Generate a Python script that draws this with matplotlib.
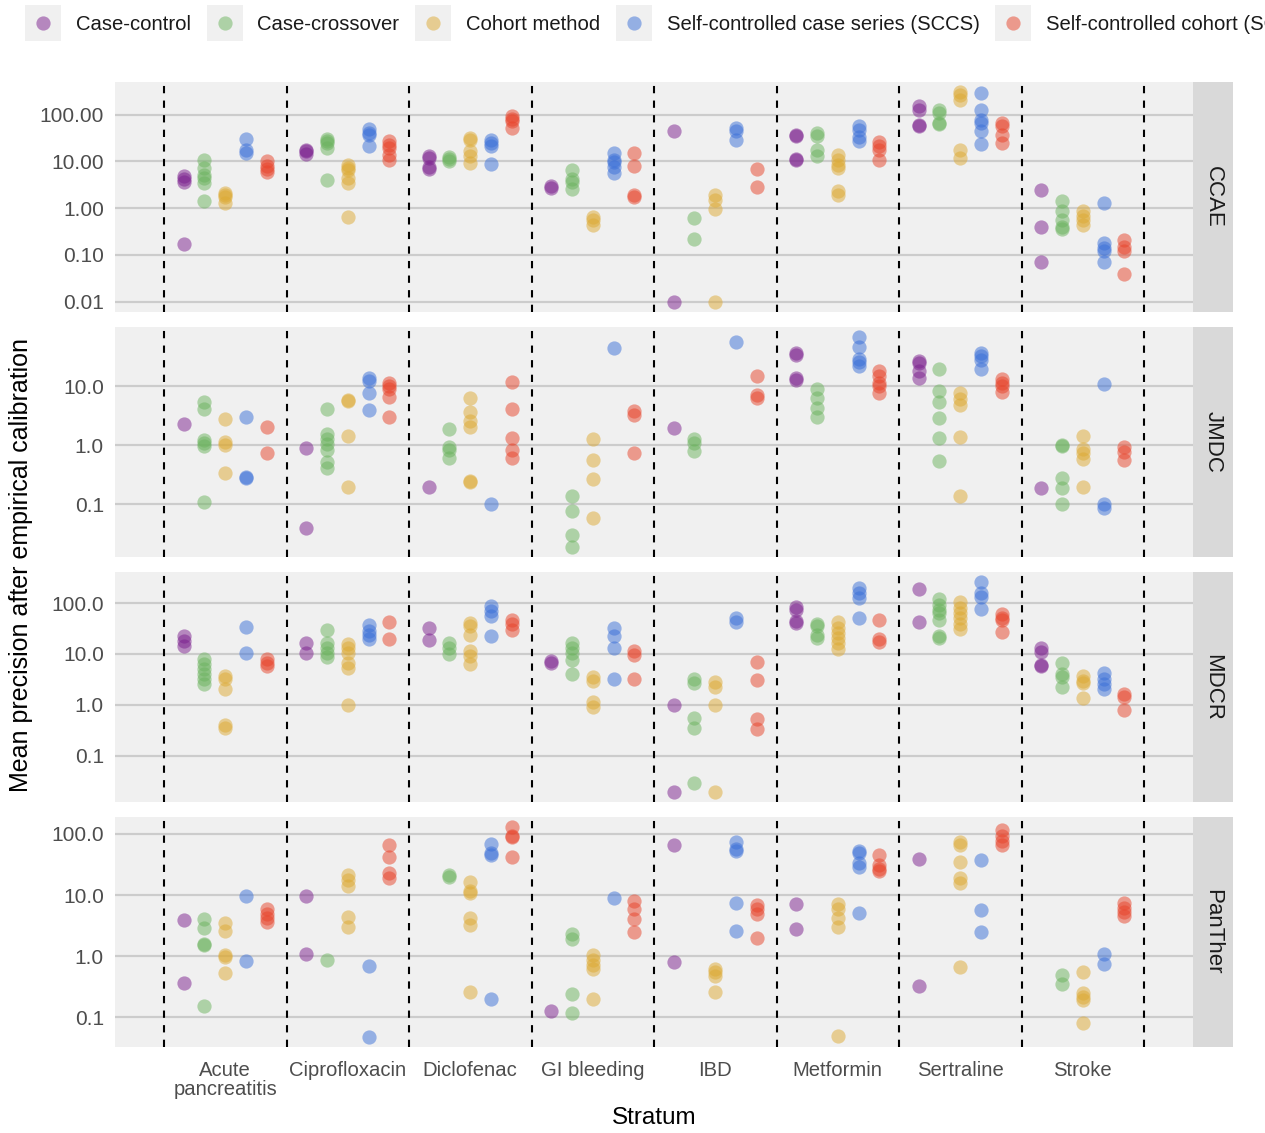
import numpy as np
import matplotlib.pyplot as plt
from matplotlib.ticker import FixedLocator, NullLocator

plt.rcParams['font.family'] = ['Liberation Sans', 'DejaVu Sans']

strata = ["Acute\npancreatitis", "Ciprofloxacin", "Diclofenac", "GI bleeding",
          "IBD", "Metformin", "Sertraline", "Stroke"]
methods = ["Case-control", "Case-crossover", "Cohort method",
           "Self-controlled case series (SCCS)", "Self-controlled cohort (SCC)"]
databases = ["CCAE", "JMDC", "MDCR", "PanTher"]
colors = ["#7b1f8e", "#6bb35e", "#ddaa33", "#3a6fd8", "#e8432a"]

# values per stratum (same order as strata), one array per database x method
ccae_cc = [[4.8, 4.3, 3.6, 0.17], [17.8, 16.5, 14.6], [13.0, 12.0, 7.5, 6.8], [3.0, 2.7],
           [44, 0.01], [37, 35, 10.9, 11.5], [156, 128, 61, 58], [2.4, 0.40, 0.069]]
ccae_cx = [[10.5, 7.2, 5.2, 4.4, 3.4, 1.39], [30, 27, 24.6, 19.3, 4.05], [12.4, 11.2, 10],
           [6.6, 4.2, 3.7, 2.55], [0.63, 0.22], [40, 35, 17.8, 13.2], [124, 109, 66, 62],
           [1.39, 0.85, 0.56, 0.40, 0.35]]
ccae_cm = [[2.1, 1.9, 1.72, 1.28], [8.5, 7.2, 6.6, 4.4, 3.4, 0.66], [31.6, 29, 16.4, 13.2, 9.2],
           [0.64, 0.56, 0.44], [1.93, 1.51, 0.95, 0.01], [13.9, 10.9, 8.5, 7.2, 2.3, 1.93],
           [300, 268, 203, 17.8, 11.8], [0.88, 0.69, 0.57, 0.44]]
ccae_sccs = [[30, 17.8, 15], [49, 40, 37, 21], [29, 25, 21, 8.9], [15.5, 10.9, 9.5, 7.6, 5.6],
             [52, 44, 29], [58, 46, 33, 27], [292, 124, 76, 66, 45, 24],
             [1.32, 0.18, 0.14, 0.118, 0.072]]
ccae_scc = [[10, 8.1, 6.8, 5.8], [27, 22, 19.3, 13.9, 10.9], [95, 82, 72, 52], [15.5, 7.8, 1.9, 1.72],
            [6.9, 2.9], [25.6, 21, 17.2, 10.9], [66, 56, 37, 24.7], [0.21, 0.15, 0.118, 0.039]]

jmdc_cc = [[2.3], [0.9, 0.04], [0.197], [], [1.97], [36, 33, 13.8, 12.4],
           [26.8, 24.5, 17.8, 13.8], [0.19]]
jmdc_cx = [[5.3, 4.1, 1.24, 1.09, 0.96, 0.11], [4.1, 1.56, 1.29, 1.07, 0.83, 0.53, 0.41],
           [1.9, 0.94, 0.83, 0.6], [0.138, 0.079, 0.030, 0.0195], [1.29, 1.1, 0.81],
           [8.8, 6.2, 4.2, 3.0], [19.4, 8.3, 5.3, 2.9, 1.34, 0.55], [1.02, 0.98, 0.28, 0.19, 0.1]]
jmdc_cm = [[2.8, 1.14, 1.0, 0.34], [5.8, 5.5, 1.45, 0.2], [6.2, 3.6, 2.6, 2.0, 0.25, 0.24],
           [1.29, 0.56, 0.27, 0.06], [], [], [7.7, 6.0, 4.8, 1.38, 0.138],
           [1.41, 0.88, 0.73, 0.58, 0.2]]
jmdc_sccs = [[3.0, 0.29, 0.28], [13.8, 12.1, 7.5, 3.9], [0.1], [43.5], [56],
             [66, 45, 29, 25, 21.5], [36, 31.6, 27.8, 19], [10.7, 0.1, 0.088]]
jmdc_scc = [[2.0, 0.74], [11.4, 10, 8.8, 6.6, 3.0], [11.7, 4.1, 1.34, 0.83, 0.6], [3.8, 3.2, 0.74],
            [14.7, 7.1, 6.2], [17.8, 14.7, 11.4, 10, 7.5], [12.9, 11.4, 10, 8.0], [0.94, 0.78, 0.56]]

mdcr_cc = [[22.4, 17.9, 14.3], [16.1, 10.3], [32.6, 19], [7.3, 6.6], [1.0, 0.02],
           [83.5, 72, 44, 40.7], [187, 42], [13.3, 10.8, 5.8, 6.2]]
mdcr_cx = [[7.9, 6.3, 5.0, 4.0, 3.3, 2.57], [30, 16.6, 13.3, 10.6, 8.9], [16.6, 13.3, 10],
           [16.6, 13.3, 10.3, 7.6, 4.0], [3.2, 2.7, 0.55, 0.35, 0.03], [39.5, 35, 24, 20.8],
           [120, 93, 74, 64, 47, 23, 20.8], [6.8, 4.0, 3.5, 2.2]]
mdcr_cm = [[3.7, 3.3, 2.1, 0.41, 0.35], [15.4, 13.3, 10.3, 6.8, 5.4, 1.0],
           [40.7, 35, 24, 11.4, 9.1, 6.3], [3.5, 3.0, 1.13, 0.9], [2.77, 2.2, 1.0, 0.02],
           [42, 32.6, 26, 20.8, 16.1, 12.3], [103, 80, 64, 51, 39.5, 31], [3.7, 3.0, 2.7, 1.35]]
mdcr_sccs = [[33.6, 10.3], [37.8, 28, 24, 19.3], [86, 69, 55, 23], [32.6, 22.4, 13.3, 3.2],
             [51, 42], [196, 157, 125, 51], [253, 157, 131, 76], [4.3, 3.2, 2.57, 2.1]]
mdcr_scc = [[7.9, 6.6, 5.8], [42, 19.3], [47, 39.5, 29.4], [11.4, 9.4, 3.2], [7.0, 3.1, 0.52, 0.34],
            [46, 19.3, 17.1], [62, 51, 46, 26.8], [1.64, 1.41, 0.8]]

panther_cc = [[3.86, 0.36], [9.5, 1.09], [], [0.125], [65, 0.8], [7.0, 2.76], [39.5, 0.32], []]
panther_cx = [[4.0, 2.86, 1.58, 1.5, 0.154], [0.87], [21, 20], [2.29, 1.9, 0.24, 0.117],
              [], [], [], [0.49, 0.35]]
panther_cm = [[3.5, 2.6, 1.06, 0.96, 0.53], [21, 17.7, 14.3, 4.36, 2.94],
              [16.6, 11.7, 10.8, 4.15, 3.24, 0.253], [1.03, 0.85, 0.71, 0.62, 0.198],
              [0.62, 0.55, 0.47, 0.253], [7.0, 5.8, 4.15, 3.0, 0.049],
              [75, 65, 35, 18.8, 15.6, 0.67], [0.54, 0.25, 0.21, 0.19, 0.081]]
panther_sccs = [[9.5, 0.84], [0.68, 0.048], [69, 49, 45, 0.198], [8.96], [73, 56, 53, 7.4, 2.6],
                [52, 48, 33, 29, 5.1], [37, 5.6, 2.44], [1.09, 0.73]]
panther_scc = [[5.8, 4.8, 4.15, 3.6], [65, 42, 23, 18.8], [128, 92, 88, 42], [8.1, 5.8, 4.0, 2.44],
               [6.8, 5.8, 4.9, 2.0], [46, 31, 26.6, 25], [117, 92, 78, 65], [7.4, 6.2, 5.3, 4.5]]

data = {
    "CCAE": [ccae_cc, ccae_cx, ccae_cm, ccae_sccs, ccae_scc],
    "JMDC": [jmdc_cc, jmdc_cx, jmdc_cm, jmdc_sccs, jmdc_scc],
    "MDCR": [mdcr_cc, mdcr_cx, mdcr_cm, mdcr_sccs, mdcr_scc],
    "PanTher": [panther_cc, panther_cx, panther_cm, panther_sccs, panther_scc],
}
y_ticks = {"CCAE": [0.01, 0.1, 1, 10, 100], "JMDC": [0.1, 1, 10],
           "MDCR": [0.1, 1, 10, 100], "PanTher": [0.1, 1, 10, 100]}
y_fmt = {"CCAE": "{:.2f}", "JMDC": "{:.1f}", "MDCR": "{:.1f}", "PanTher": "{:.1f}"}

W, H = 1265, 1133
fig = plt.figure(figsize=(W / 100, H / 100), dpi=100)

px_left, px_right, px_strip = 115, 1193, 1233
row_tops = [82, 327, 572, 817]
row_h = 230
offsets = np.linspace(-0.34, 0.34, len(methods))
x = np.arange(1, len(strata) + 1)

for r, db in enumerate(databases):
    bottom = 1 - (row_tops[r] + row_h) / H
    ax = fig.add_axes([px_left / W, bottom, (px_right - px_left) / W, row_h / H])
    ax.set_facecolor('#f0f0f0')
    for s in ax.spines.values():
        s.set_visible(False)
    ax.set_yscale('log')

    allv = []
    for m, series in enumerate(data[db]):
        for i, vals in enumerate(series):
            if not vals:
                continue
            ax.scatter(np.full(len(vals), x[i] + offsets[m]), vals, s=105,
                       color=colors[m], alpha=0.5, linewidths=0, zorder=3)
            allv.extend(vals)

    lo, hi = np.log10(min(allv)), np.log10(max(allv))
    pad = 0.05 * (hi - lo)
    ax.set_ylim(10 ** (lo - pad), 10 ** (hi + pad))
    ax.set_xlim(0.1, len(strata) + 0.9)

    for xv in np.arange(0.5, len(strata) + 1, 1.0):
        ax.axvline(xv, color='black', ls=(0, (3.5, 3.5)), lw=1.5, zorder=2)

    ax.yaxis.set_major_locator(FixedLocator(y_ticks[db]))
    ax.yaxis.set_minor_locator(NullLocator())
    ax.set_yticklabels([y_fmt[db].format(t) for t in y_ticks[db]])
    ax.yaxis.grid(True, color='#cccccc', lw=1.6, zorder=1)
    ax.set_axisbelow(True)
    ax.tick_params(axis='y', length=0, labelsize=15, colors='#4d4d4d', pad=8)
    ax.tick_params(axis='x', length=0, labelsize=14.6, colors='#4d4d4d', pad=10)

    ax.set_xticks(x)
    if r == len(databases) - 1:
        ax.set_xticklabels(strata, linespacing=1.0)
    else:
        ax.set_xticklabels([])

    sax = fig.add_axes([px_right / W, bottom, (px_strip - px_right) / W, row_h / H])
    sax.set_facecolor('#d9d9d9')
    sax.set_xticks([])
    sax.set_yticks([])
    for s in sax.spines.values():
        s.set_visible(False)
    sax.text(0.5, 0.5, db, rotation=-90, ha='center', va='center', fontsize=16,
             color='#1a1a1a', transform=sax.transAxes)

fig.text(654 / W, 1 - 1118 / H, "Stratum", ha='center', va='center', fontsize=17.5)
fig.text(21 / W, 1 - 565 / H, "Mean precision after empirical calibration",
         rotation=90, ha='center', va='center', fontsize=18)

# legend along the top, built by hand to get the grey key boxes
fig.canvas.draw()
renderer = fig.canvas.get_renderer()
cur = 25
key = 36
for m, name in enumerate(methods):
    kax = fig.add_axes([cur / W, 1 - 41 / H, key / W, key / H])
    kax.set_facecolor('#f0f0f0')
    kax.set_xlim(0, 1)
    kax.set_ylim(0, 1)
    kax.set_xticks([])
    kax.set_yticks([])
    for s in kax.spines.values():
        s.set_visible(False)
    kax.scatter([0.5], [0.5], s=105, color=colors[m], alpha=0.5, linewidths=0)
    t = fig.text((cur + key + 15) / W, 1 - 24 / H, name, ha='left', va='center',
                 fontsize=14.6, color='#1a1a1a')
    wpx = t.get_window_extent(renderer=renderer).width
    cur = cur + key + 15 + wpx + 15.5

fig.savefig('out.png', dpi=100)
